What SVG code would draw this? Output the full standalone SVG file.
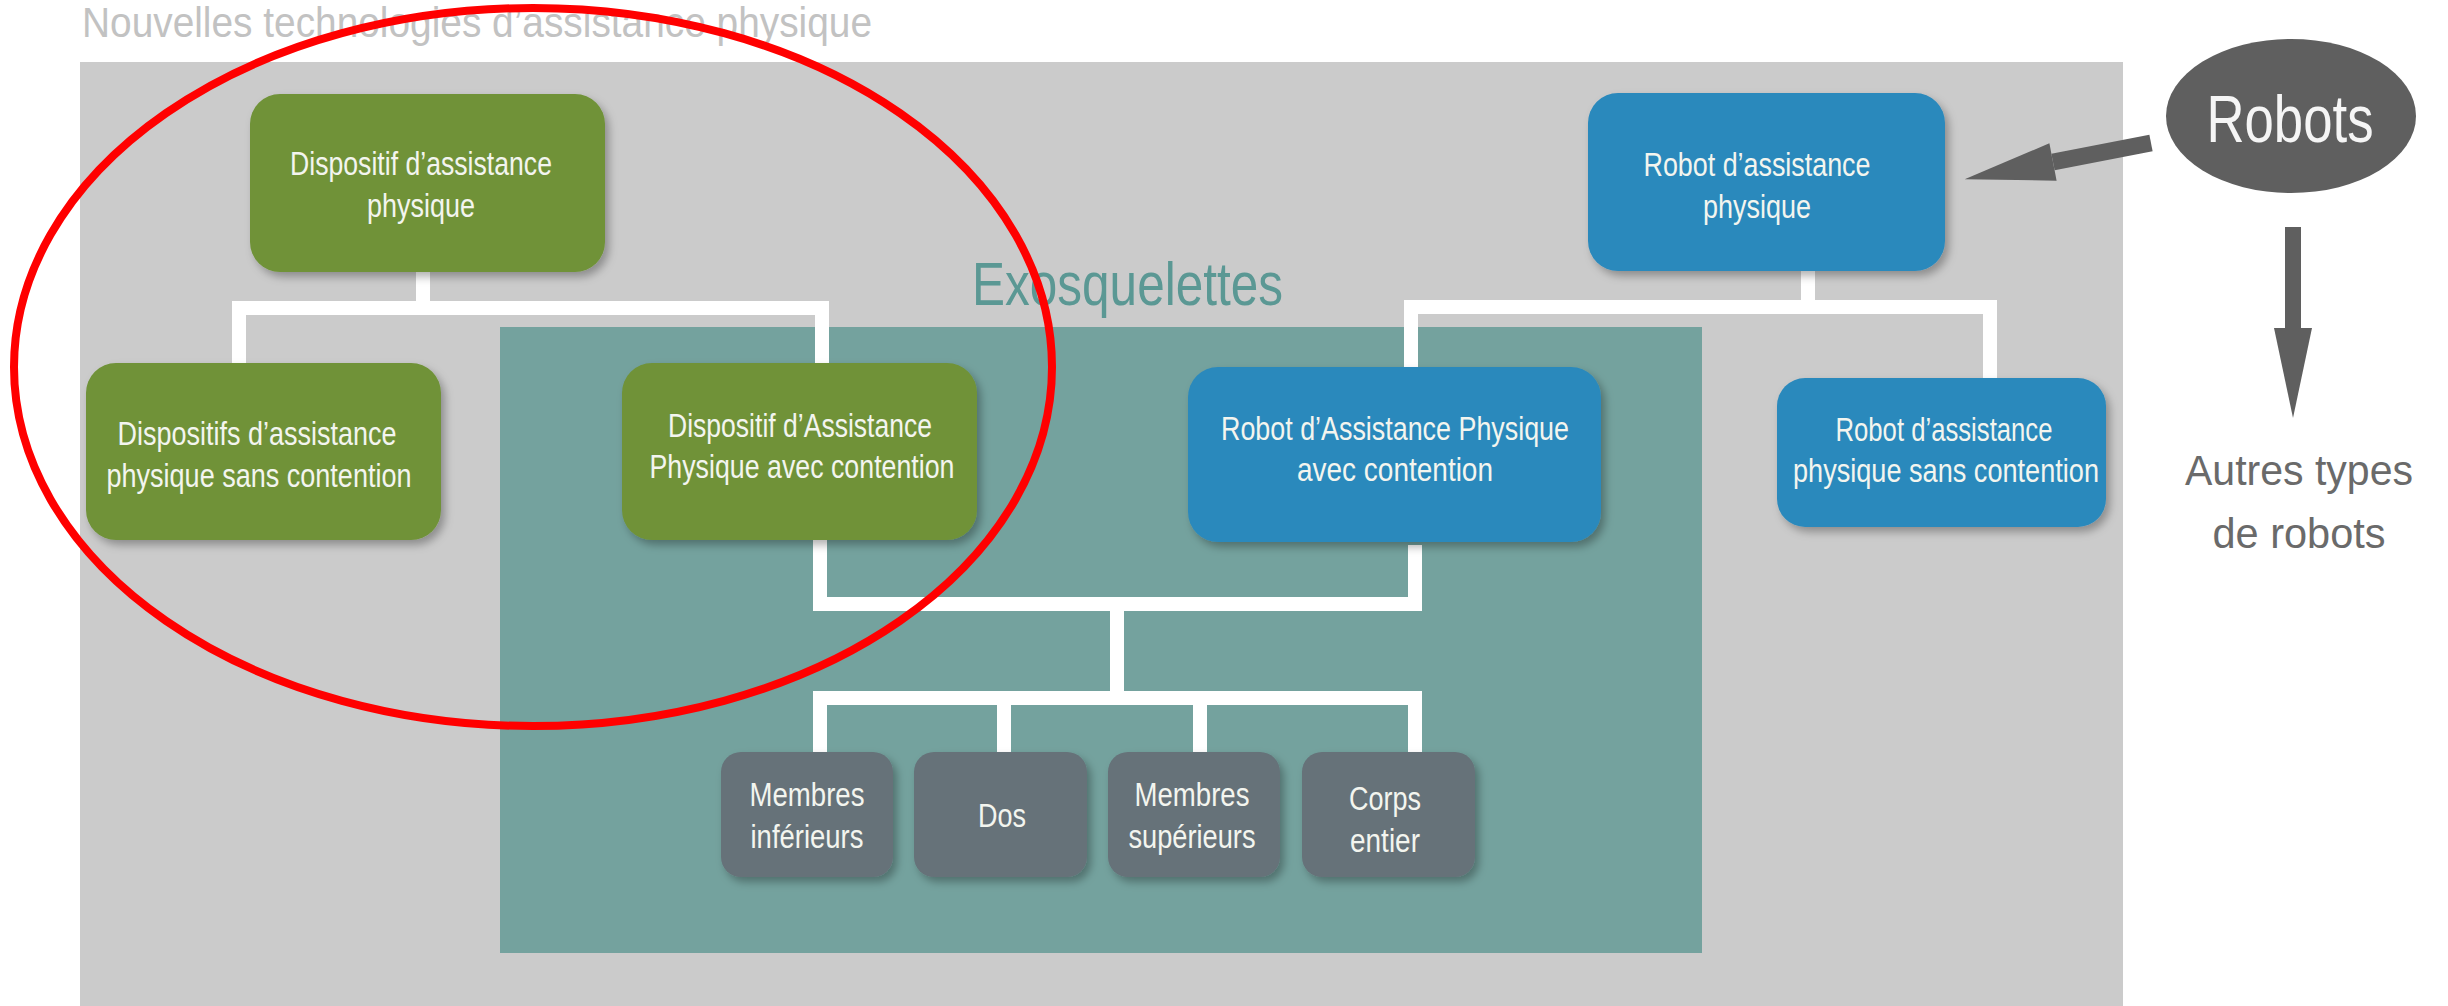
<svg xmlns="http://www.w3.org/2000/svg" width="2448" height="1006" viewBox="0 0 2448 1006">
  <defs>
    <filter id="sh" x="-10%" y="-10%" width="130%" height="130%">
      <feDropShadow dx="4" dy="5" stdDeviation="4" flood-color="#000" flood-opacity="0.3"/>
    </filter>
    <marker id="ah" markerUnits="userSpaceOnUse" markerWidth="100" markerHeight="50" refX="0" refY="0" viewBox="0 -25 100 50" orient="auto" overflow="visible">
      <path d="M0,-19 L90,0 L0,19 Z" fill="#5f5f5f"/>
    </marker>
    <style>
      .lbl { font-family: "Liberation Sans Narrow", "Liberation Sans", sans-serif; font-size: 33px; fill: #f3f5ef; text-anchor: middle; }
      .green { fill: #6f9238; filter: url(#sh); }
      .blue { fill: #2c89bc; filter: url(#sh); }
      .gray { fill: #667279; filter: url(#sh); }
      .wire { fill: none; stroke: #ffffff; stroke-width: 14; stroke-linejoin: miter; }
      .arrow { stroke: #5f5f5f; fill: none; marker-end: url(#ah); }
    </style>
  </defs>

  <rect width="2448" height="1006" fill="#ffffff"/>
  <text x="82" y="37" font-family="Liberation Sans Narrow, Liberation Sans, sans-serif" font-size="42" fill="#c2c2c2" textLength="790" lengthAdjust="spacingAndGlyphs">Nouvelles technologies d’assistance physique</text>

  <rect id="panel" x="80" y="62" width="2043" height="944" fill="#cbcbcb"/>
  <g id="exosquelettes">
    <rect x="500" y="327" width="1202" height="626" fill="#74a29e"/>
    <text x="972" y="305" font-family="Liberation Sans Narrow, Liberation Sans, sans-serif" font-size="61" fill="#5b9894" textLength="311" lengthAdjust="spacingAndGlyphs">Exosquelettes</text>
  </g>

  <g id="connectors">
    <path class="wire" d="M423,272 V308"/>
    <path class="wire" d="M239,363 V308 H822 V363"/>
    <path class="wire" d="M1808,271 V307"/>
    <path class="wire" d="M1411,367 V307 H1990 V378"/>
    <path class="wire" d="M820,540 V604 H1415 V545"/>
    <path class="wire" d="M1117,604 V698"/>
    <path class="wire" d="M820,752 V698 H1415 V752"/>
    <path class="wire" d="M1004,698 V752"/>
    <path class="wire" d="M1200,698 V752"/>
    <path class="arrow" stroke-width="17" d="M2151,143 L2053,162"/>
    <path class="arrow" stroke-width="16" d="M2293,227 L2293,328"/>
  </g>

  <g id="dispositif">
    <rect class="green" x="250" y="94" width="355" height="178" rx="30"/>
    <text class="lbl" x="421" y="175" textLength="262" lengthAdjust="spacingAndGlyphs">Dispositif d’assistance</text>
    <text class="lbl" x="421" y="217" textLength="108" lengthAdjust="spacingAndGlyphs">physique</text>
  </g>
  <g id="dispositif-sans">
    <rect class="green" x="86" y="363" width="355" height="177" rx="30"/>
    <text class="lbl" x="257" y="445" textLength="279" lengthAdjust="spacingAndGlyphs">Dispositifs d’assistance</text>
    <text class="lbl" x="259" y="487" textLength="305" lengthAdjust="spacingAndGlyphs">physique sans contention</text>
  </g>
  <g id="dispositif-avec">
    <rect class="green" x="622" y="363" width="355" height="177" rx="30"/>
    <text class="lbl" x="800" y="437" textLength="264" lengthAdjust="spacingAndGlyphs">Dispositif d’Assistance</text>
    <text class="lbl" x="802" y="478" textLength="305" lengthAdjust="spacingAndGlyphs">Physique avec contention</text>
  </g>
  <g id="robot">
    <rect class="blue" x="1588" y="93" width="357" height="178" rx="30"/>
    <text class="lbl" x="1757" y="176" textLength="227" lengthAdjust="spacingAndGlyphs">Robot d’assistance</text>
    <text class="lbl" x="1757" y="218" textLength="108" lengthAdjust="spacingAndGlyphs">physique</text>
  </g>
  <g id="robot-avec">
    <rect class="blue" x="1188" y="367" width="413" height="175" rx="30"/>
    <text class="lbl" x="1395" y="440" textLength="348" lengthAdjust="spacingAndGlyphs">Robot d’Assistance Physique</text>
    <text class="lbl" x="1395" y="481" textLength="196" lengthAdjust="spacingAndGlyphs">avec contention</text>
  </g>
  <g id="robot-sans">
    <rect class="blue" x="1777" y="378" width="329" height="149" rx="28"/>
    <text class="lbl" x="1944" y="441" textLength="217" lengthAdjust="spacingAndGlyphs">Robot d’assistance</text>
    <text class="lbl" x="1946" y="482" textLength="306" lengthAdjust="spacingAndGlyphs">physique sans contention</text>
  </g>

  <g id="membres-inferieurs">
    <rect class="gray" x="721" y="752" width="172" height="125" rx="20"/>
    <text class="lbl" x="807" y="806" textLength="115" lengthAdjust="spacingAndGlyphs">Membres</text>
    <text class="lbl" x="807" y="848" textLength="113" lengthAdjust="spacingAndGlyphs">inférieurs</text>
  </g>
  <g id="dos">
    <rect class="gray" x="914" y="752" width="173" height="125" rx="20"/>
    <text class="lbl" x="1002" y="827" textLength="48" lengthAdjust="spacingAndGlyphs">Dos</text>
  </g>
  <g id="membres-superieurs">
    <rect class="gray" x="1108" y="752" width="172" height="125" rx="20"/>
    <text class="lbl" x="1192" y="806" textLength="115" lengthAdjust="spacingAndGlyphs">Membres</text>
    <text class="lbl" x="1192" y="848" textLength="127" lengthAdjust="spacingAndGlyphs">supérieurs</text>
  </g>
  <g id="corps-entier">
    <rect class="gray" x="1302" y="752" width="173" height="125" rx="20"/>
    <text class="lbl" x="1385" y="810" textLength="72" lengthAdjust="spacingAndGlyphs">Corps</text>
    <text class="lbl" x="1385" y="852" textLength="70" lengthAdjust="spacingAndGlyphs">entier</text>
  </g>

  <g id="robots">
    <ellipse cx="2291" cy="116" rx="125" ry="77" fill="#5f5f5f"/>
    <text x="2290" y="142" font-family="Liberation Sans Narrow, Liberation Sans, sans-serif" font-size="66" fill="#f5f5f5" text-anchor="middle" textLength="167" lengthAdjust="spacingAndGlyphs">Robots</text>
  </g>
  <g id="autres">
    <text x="2299" y="485" font-family="Liberation Sans, sans-serif" font-size="42" fill="#6a6a6a" text-anchor="middle" textLength="228" lengthAdjust="spacingAndGlyphs">Autres types</text>
    <text x="2299" y="548" font-family="Liberation Sans, sans-serif" font-size="42" fill="#6a6a6a" text-anchor="middle" textLength="173" lengthAdjust="spacingAndGlyphs">de robots</text>
  </g>

  <ellipse id="highlight" cx="533" cy="367" rx="519" ry="359" fill="none" stroke="#ff0000" stroke-width="8"/>
</svg>
